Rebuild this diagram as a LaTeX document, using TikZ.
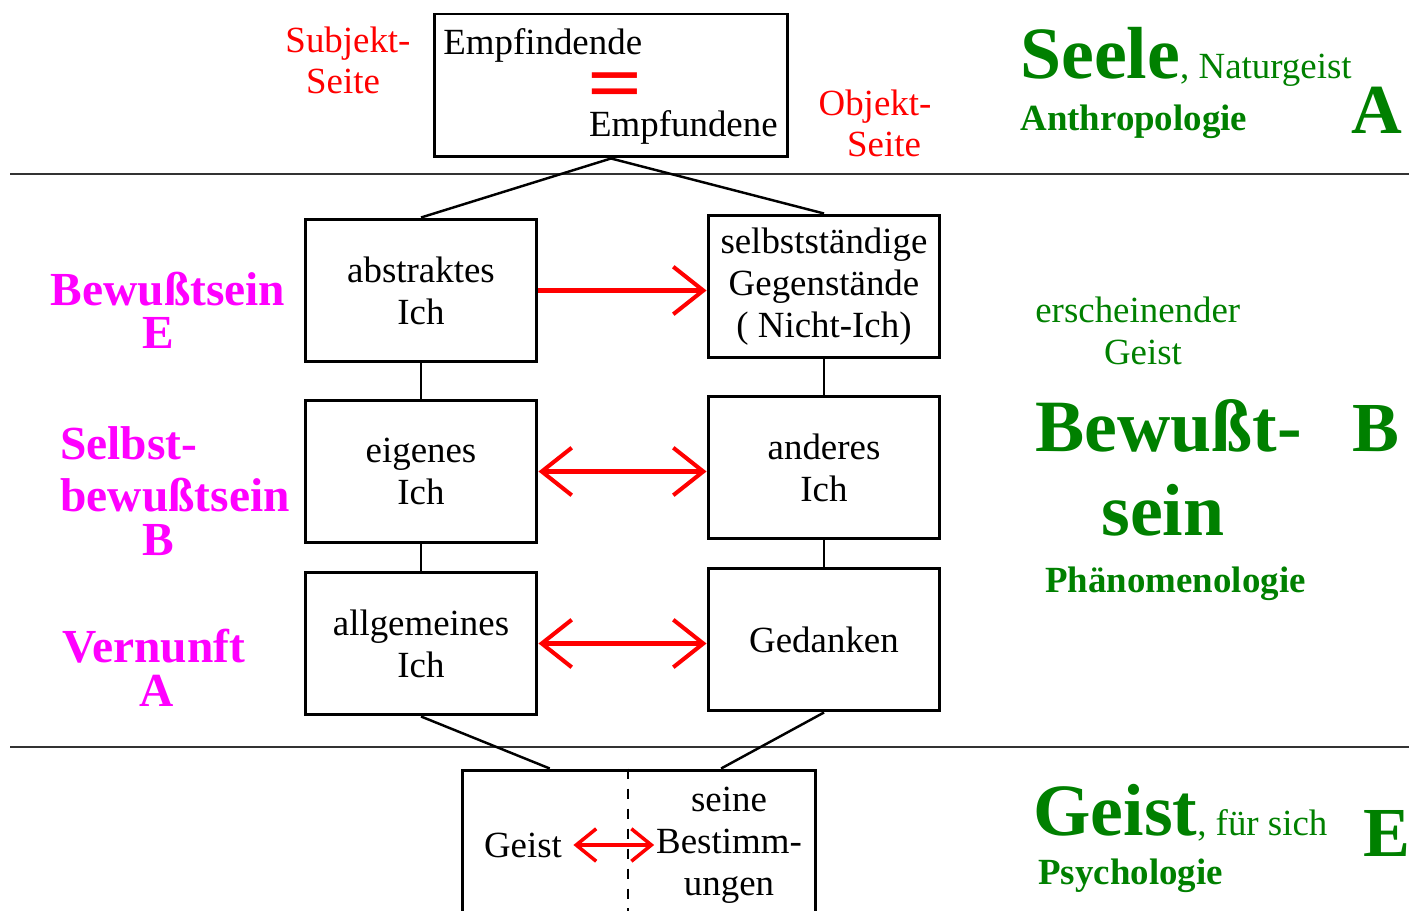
\documentclass[tikz,border=0pt]{standalone}
\usepackage{fontspec}
\setmainfont{Liberation Serif}
\usetikzlibrary{arrows.meta,calc}
\definecolor{rot}{RGB}{255,0,0}
\definecolor{lila}{RGB}{255,0,255}
\definecolor{gruen}{RGB}{0,128,0}
\newcommand{\normalgr}{\fontsize{21}{24}\selectfont}
\newcommand{\grossgr}{\fontsize{42}{46}\selectfont\bfseries}
\tikzset{
	kasten/.style={draw, line width=1.7pt, minimum width=4.64cm, minimum height=2.86cm, align=center, font=\normalgr, inner sep=2pt},
	verbinder/.style={line width=1.4pt},
	trennlinie/.style={line width=1.1pt, black!80},
	pfeil/.style={draw=rot, line width=2.3pt, -{Straight Barb[length=0.6cm,width=0.95cm]}},
	doppelpfeil/.style={draw=rot, line width=2.3pt, {Straight Barb[length=0.6cm,width=0.95cm]}-{Straight Barb[length=0.6cm,width=0.95cm]}},
	seite/.style={text=rot, font=\normalgr, anchor=base, inner sep=0pt},
	stufe/.style={text=lila, font=\fontsize{27}{30}\selectfont\bfseries, anchor=base, inner sep=0pt},
	gruentext/.style={text=gruen, font=\normalgr, anchor=base west, inner sep=0pt},
	buchstabe/.style={text=gruen, font=\fontsize{40}{44}\selectfont\bfseries, anchor=base, inner sep=0pt}
}
\begin{document}
\begin{tikzpicture}[x=0.02cm, y=-0.02cm]
	\useasboundingbox (0,0) rectangle (1409,911);

	% the dividing lines
	\draw[trennlinie] (10,174) -- (1409,174);
	\draw[trennlinie] (10,747) -- (1409,747);

	% the top box
	\node[kasten, minimum width=7.08cm] (empf) at (611,85.5) {};
	\node[font=\normalgr, anchor=base west, inner sep=0pt] (empfindende) at (443,55) {Empfindende};
	\node[text=rot, font=\fontsize{46}{46}\selectfont\bfseries, inner sep=0pt, anchor=base] (gleich) at (615,111) {\smash{\scalebox{1.2}[1]{=}}};
	\node[font=\normalgr, anchor=base east, inner sep=0pt] (empfundene) at (778,137) {Empfundene};

	\node[seite] (subj1) at (348,53) {Subjekt-};
	\node[seite] (subj2) at (343,94) {Seite};
	\node[seite] (obj1) at (875,116) {Objekt-};
	\node[seite] (obj2) at (884,157) {Seite};

	% the boxes of consciousness
	\node[kasten] (abstrakt) at (421,290.5) {abstraktes\\Ich};
	\node[kasten] (gegen) at (824,286.5) {selbstständige\\Gegenstände\\( Nicht-Ich)};
	\node[kasten] (eigen) at (421,471.5) {eigenes\\Ich};
	\node[kasten] (ander) at (824,467.5) {anderes\\Ich};
	\node[kasten] (allg) at (421,643.5) {allgemeines\\Ich};
	\node[kasten] (gedank) at (824,639.5) {Gedanken};

	% the bottom box
	\node[kasten, minimum width=7.08cm, minimum height=3.4cm] (geistbox) at (639,855) {};
	\coordinate (trenn) at ($(geistbox.north west)!0.469!(geistbox.north east)$);
	\draw[line width=0.8pt, dash pattern=on 0.2cm off 0.2cm] (trenn) -- (trenn |- geistbox.south);
	\node[font=\normalgr] (geisttxt) at (523,845) {Geist};
	\node[font=\normalgr, align=center, inner sep=1pt] (bestimm) at (729,845) {seine\\Bestimm-\\ungen};

	% the connecting lines
	\draw[verbinder] (empf.south) -- (abstrakt.north);
	\draw[verbinder] (empf.south) -- (gegen.north);
	\draw[verbinder] (abstrakt) -- (eigen);
	\draw[verbinder] (eigen) -- (allg);
	\draw[verbinder] (gegen) -- (ander);
	\draw[verbinder] (ander) -- (gedank);
	\draw[verbinder] (allg.south) -- ($(geistbox.north west)!0.25!(geistbox.north east)$);
	\draw[verbinder] (gedank.south) -- ($(geistbox.north west)!0.73!(geistbox.north east)$);

	% draw the arrows
	\draw[pfeil] (abstrakt.east) -- (abstrakt.east -| gegen.west);
	\draw[doppelpfeil] (eigen.east) -- (eigen.east -| ander.west);
	\draw[doppelpfeil] (allg.east) -- (allg.east -| gedank.west);
	\draw[draw=rot, line width=2pt, {Straight Barb[length=0.4cm,width=0.65cm]}-{Straight Barb[length=0.4cm,width=0.65cm]}, shorten <=3pt] (geisttxt.east) -- (geisttxt.east -| bestimm.west);

	% the left labels
	\node[stufe] (bew1) at (168,306) {Bewußtsein};
	\node[stufe] (bew2) at (158,349) {E};
	\node[stufe, anchor=base west] (selbst1) at (60,460) {Selbst-};
	\node[stufe, anchor=base west] (selbst2) at (60,512) {bewußtsein};
	\node[stufe] (selbst3) at (158,556) {B};
	\node[stufe, anchor=base west] (vern1) at (62,662) {Vernunft};
	\node[stufe] (vern2) at (157,706) {A};

	% the right labels
	\node[gruentext] (seele) at (1020,79) {{\grossgr Seele}, Naturgeist};
	\node[gruentext, font=\normalgr\bfseries] (anthro) at (1020,131) {Anthropologie};
	\node[buchstabe] (ba) at (1377,134) {A};

	\node[gruentext] (ersch) at (1035,323) {erscheinender};
	\node[gruentext, anchor=base] (ersch2) at (1143,365) {Geist};
	\node[gruentext, font=\grossgr] (bewusst1) at (1035,452) {Bewußt-};
	\node[gruentext, font=\grossgr, anchor=base] (bewusst2) at (1163,536) {sein};
	\node[buchstabe] (bb) at (1376,452) {B};
	\node[gruentext, font=\normalgr\bfseries] (phaen) at (1045,592) {Phänomenologie};

	\node[gruentext] (geistr) at (1033,835) {{\grossgr Geist}, für sich};
	\node[gruentext, font=\normalgr\bfseries] (psych) at (1038,884) {Psychologie};
	\node[buchstabe] (be) at (1387,856) {E};

\end{tikzpicture}
\end{document}
